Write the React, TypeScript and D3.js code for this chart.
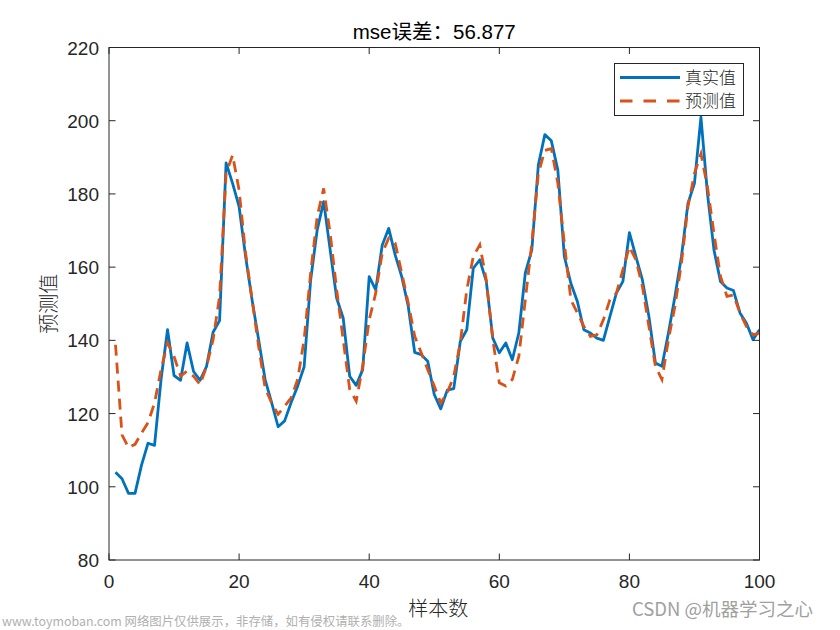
import React from "react";
import * as d3 from "d3";

const xTicks = [0, 20, 40, 60, 80, 100];
const yTicks = [80, 100, 120, 140, 160, 180, 200, 220];

const trueValues = [
  104, 102.2, 98.2, 98.2, 105.9, 111.9, 111.3, 129.3, 142.9, 130.4,
  129.1, 139.3, 131.5, 129.1, 132.9, 142.2, 145.4, 188.5, 182.9, 176.5,
  162.9, 151, 140.2, 129.3, 123, 116.4, 118, 123, 127.5, 132.8,
  156.5, 170.1, 177.9, 164.7, 151.5, 146.1, 130.2, 127.7, 132, 157.4,
  153.8, 166, 170.6, 163.3, 157.4, 149.3, 136.7, 136.1, 134.3, 125.2,
  121.3, 126.4, 126.8, 139.7, 142.9, 159.7, 162, 156.1, 140.6, 136.6,
  139.3, 134.7, 142, 158.4, 164.7, 187.9, 196.2, 194.5, 186.5, 162.9,
  155.6, 150.6, 142.9, 142, 140.6, 140, 146.5, 152.9, 156.1, 169.4,
  162.9, 156.5, 146.5, 133.8, 132.9, 142, 152, 162.9, 177.4, 182.9,
  201, 180.1, 164.7, 156.1, 154.3, 153.6, 147.5, 144.7, 140.2, 142.9,
];

const predValues = [
  138.8, 114.2, 110.7, 111.6, 114.7, 117.5, 122.9, 132, 139.3, 135.6,
  130.2, 131.6, 130.2, 127.9, 132.9, 140.2, 152, 185.6, 190.6, 181,
  163.8, 151.1, 138.4, 127, 122.9, 119.8, 122, 124.3, 129.3, 140.2,
  158.4, 173.8, 181.5, 169.2, 153.8, 140.2, 126.6, 123.4, 132.9, 145.6,
  152.9, 163.8, 167.9, 166.5, 158.4, 150.2, 141.1, 136.6, 132, 127.5,
  122.9, 125.7, 130.2, 139.3, 153.8, 162.9, 166.1, 156.5, 140.2, 128.4,
  127.5, 129.3, 135.6, 151.1, 166.5, 185.6, 191.9, 192.4, 182.9, 166.5,
  151.1, 147.5, 143.8, 141.1, 141.5, 145.6, 151.1, 152.9, 159.3, 165.6,
  162, 154.7, 143.8, 132.9, 129.3, 140.2, 149.3, 161.1, 176.5, 185.6,
  191, 181.9, 169.2, 157.5, 152, 152.4, 147.5, 143.8, 141.5, 142,
];

const titleText = "mse误差：56.877";
const xLabel = "样本数";
const yLabel = "预测值";
const legendLabels = ["真实值", "预测值"];

const W = 840;
const H = 630;
const L = 109;
const R = 759.5;
const T = 47.5;
const B = 560;

export default function App() {
  const x = d3.scaleLinear().domain([0, 100]).range([L, R]);
  const y = d3.scaleLinear().domain([80, 220]).range([B, T]);
  const line = d3
    .line<number>()
    .x((_, i) => x(i + 1))
    .y((d) => y(d));

  const axisColor = "#262626";
  const tickLen = 6.5;
  const numFont = "'Liberation Sans', Arial, Helvetica, sans-serif";
  const cjkFont = "'Noto Sans CJK SC', sans-serif";

  return (
    <svg
      width={W}
      height={H}
      viewBox={`0 0 ${W} ${H}`}
      style={{ position: "absolute", left: 0, top: 0, background: "#fff" }}
    >
      <rect x={0} y={0} width={W} height={H} fill="#fff" />
      <defs>
        <clipPath id="plotclip">
          <rect x={L} y={T} width={R - L} height={B - T} />
        </clipPath>
      </defs>
      <g clipPath="url(#plotclip)">
        <path
          d={line(trueValues) || ""}
          fill="none"
          stroke="#0072BD"
          strokeWidth={2.8}
          strokeLinejoin="round"
        />
        <path
          d={line(predValues) || ""}
          fill="none"
          stroke="#D95319"
          strokeWidth={2.8}
          strokeDasharray="11,7"
        />
      </g>
      <rect x={L} y={T} width={R - L} height={B - T} fill="none" stroke={axisColor} strokeWidth={1} />
      {xTicks.map((t) => (
        <g key={"x" + t}>
          <line x1={x(t)} x2={x(t)} y1={B} y2={B - tickLen} stroke={axisColor} />
          <line x1={x(t)} x2={x(t)} y1={T} y2={T + tickLen} stroke={axisColor} />
          <text
            x={x(t)}
            y={B + 28}
            textAnchor="middle"
            fontFamily={numFont}
            fontSize={19}
            fill={axisColor}
          >
            {t}
          </text>
        </g>
      ))}
      {yTicks.map((t) => (
        <g key={"y" + t}>
          <line x1={L} x2={L + tickLen} y1={y(t)} y2={y(t)} stroke={axisColor} />
          <line x1={R} x2={R - tickLen} y1={y(t)} y2={y(t)} stroke={axisColor} />
          <text
            x={L - 10}
            y={y(t) + 7}
            textAnchor="end"
            fontFamily={numFont}
            fontSize={19}
            fill={axisColor}
          >
            {t}
          </text>
        </g>
      ))}
      <text
        x={(L + R) / 2}
        y={39}
        textAnchor="middle"
        fontFamily={`'Liberation Sans', 'Noto Sans CJK SC', sans-serif`}
        fontSize={20.5}
        fill="#000"
      >
        {titleText}
      </text>
      <text
        x={(L + R) / 2 + 4}
        y={616}
        textAnchor="middle"
        fontFamily={cjkFont}
        fontSize={20}
        fontWeight={300}
        fill={axisColor}
      >
        {xLabel}
      </text>
      <text
        transform={`translate(56, ${(T + B) / 2}) rotate(-90)`}
        textAnchor="middle"
        fontFamily={cjkFont}
        fontSize={20}
        fontWeight={300}
        fill={axisColor}
      >
        {yLabel}
      </text>
      <g>
        <rect x={614.5} y={63.5} width={129} height={52} fill="#fff" stroke={axisColor} strokeWidth={1} />
        <line x1={620} x2={680} y1={77.5} y2={77.5} stroke="#0072BD" strokeWidth={2.8} />
        <line
          x1={620}
          x2={680}
          y1={101}
          y2={101}
          stroke="#D95319"
          strokeWidth={2.8}
          strokeDasharray="12.5,11"
        />
        <text x={685} y={83.5} fontFamily={cjkFont} fontSize={17} fontWeight={300} fill={axisColor}>
          {legendLabels[0]}
        </text>
        <text x={685} y={107} fontFamily={cjkFont} fontSize={17} fontWeight={300} fill={axisColor}>
          {legendLabels[1]}
        </text>
      </g>
      <text x={2} y={626} fontFamily={cjkFont} fontSize={12.4} fill="#b0b0b0">
        www.toymoban.com 网络图片仅供展示，非存储，如有侵权请联系删除。
      </text>
      <text x={632} y={616} fontFamily={cjkFont} fontSize={18.5} fill="#a0a0a0">
        CSDN @机器学习之心
      </text>
    </svg>
  );
}
